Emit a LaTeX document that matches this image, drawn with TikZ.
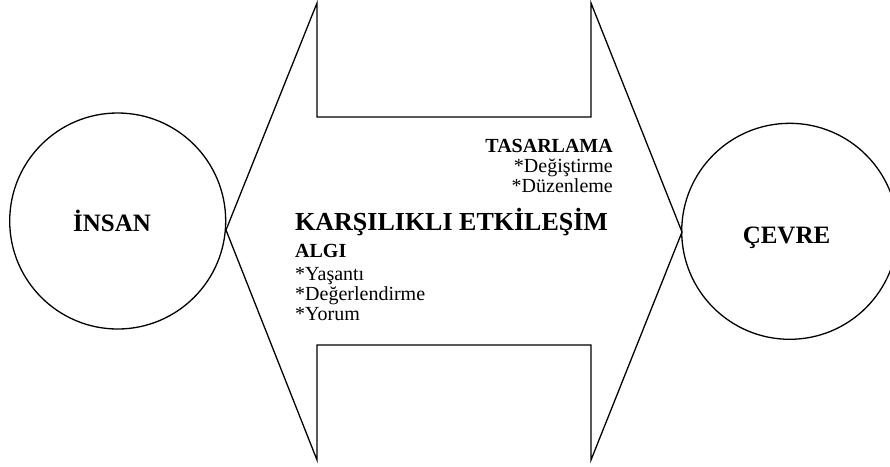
\documentclass[tikz,border=0pt]{standalone}
\usepackage{fontspec}
\setmainfont{Liberation Serif}
\usetikzlibrary{positioning}

\begin{document}
\begin{tikzpicture}[
    x=1pt, y=-1pt,
    ring/.style={circle, draw=black, line width=1.3pt, minimum size=216pt, inner sep=0pt},
    bigtxt/.style={font=\fontsize{25}{30}\selectfont\bfseries, inner sep=0pt},
    headtxt/.style={font=\fontsize{26}{31}\selectfont\bfseries, inner sep=0pt, anchor=base west},
    subhead/.style={font=\fontsize{20}{24}\selectfont\bfseries, inner sep=0pt},
    item/.style={font=\fontsize{20}{24}\selectfont, inner sep=0pt},
    outline/.style={draw=black, line width=1.3pt, line join=miter}
]
\useasboundingbox (0,0) rectangle (890,466);

% iki daire
\node (insan) [ring] at (117.7,221) {};
\node (cevre) [ring] at (789.7,231.3) {};
\node (insantxt) [bigtxt, anchor=base] at (112,231) {İNSAN};
\node (cevretxt) [bigtxt, anchor=base] at (786.5,243) {ÇEVRE};

% çift yönlü ok
\coordinate (ltip) at (226,230);
\coordinate (rtip) at (682,232);
\coordinate (tl) at (317,3);
\coordinate (tr) at (591,3);
\coordinate (bl) at (317,460);
\coordinate (br) at (591,460);
\coordinate (ntl) at (317,117);
\coordinate (ntr) at (591,117);
\coordinate (nbl) at (317,345);
\coordinate (nbr) at (591,345);
\draw [outline] (tl) -- (ltip) -- (bl) -- (nbl) -- (nbr) -- (br) -- (rtip) -- (tr) -- (ntr) -- (ntl) -- cycle;

% tasarlama
\node (tasar) [subhead, anchor=base east] at (613,152) {TASARLAMA};
\node (degis) [item, anchor=base east] at (613,172) {*Değiştirme};
\node (duzen) [item, anchor=base east] at (613,192) {*Düzenleme};

% etkileşim ve algı
\node (etki) [headtxt] at (295,230) {KARŞILIKLI ETKİLEŞİM};
\node (algi) [subhead, anchor=base west] at (295,257) {ALGI};
\node (yasanti) [item, anchor=base west] at (295,280) {*Yaşantı};
\node (deger) [item, anchor=base west] at (295,300) {*Değerlendirme};
\node (yorum) [item, anchor=base west] at (295,320) {*Yorum};

\end{tikzpicture}
\end{document}
